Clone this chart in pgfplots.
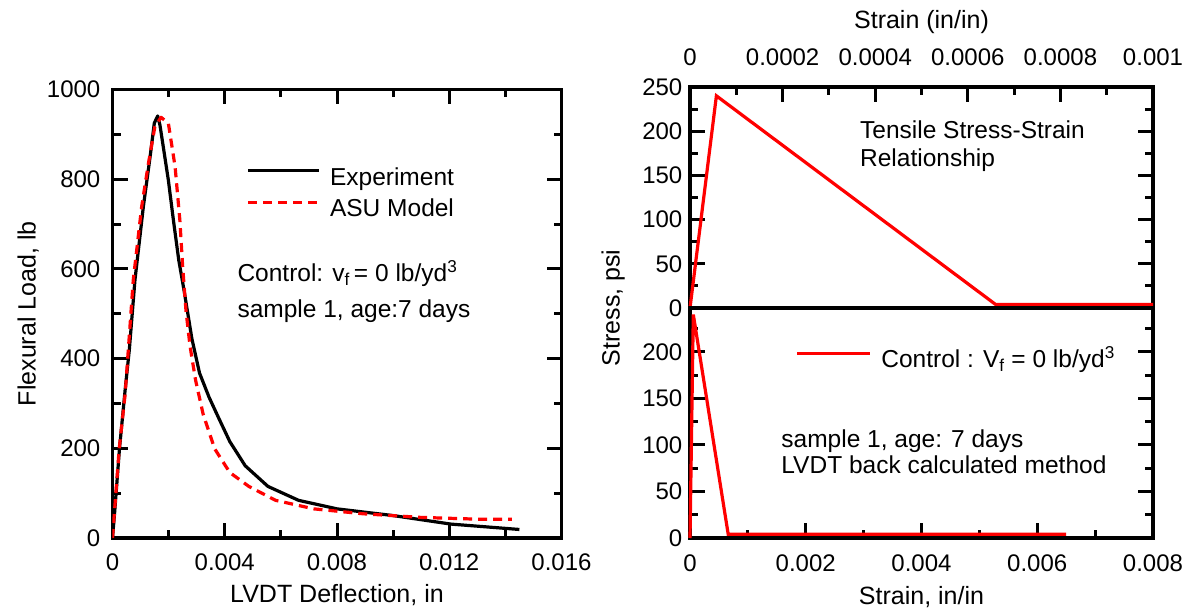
\documentclass[border=0pt]{standalone}
\usepackage{pgfplots}
\usepackage{pgfplotstable}
\pgfplotsset{compat=1.18}
\usepackage{fontspec}
\setmainfont{Liberation Sans}

\pgfplotstableread{
x y
0 0
0.00008 60
0.00025 200
0.00045 330
0.0006 420
0.0008 575
0.0011 739
0.00134 850
0.00149 925
0.00161 941
0.00169 921
0.00181 872
0.00199 798
0.00217 709
0.00236 620
0.00255 552
0.00283 444
0.0031 368
0.00344 314
0.00378 268
0.00418 215
0.00473 161
0.00554 115
0.00663 84
0.008 65
0.01 50
0.01206 31
0.0145 19
}\expdata

\pgfplotstableread{
x y
0 0
0.00024 200
0.00045 320
0.00074 575
0.00104 739
0.00128 835
0.00151 917
0.00173 938
0.00199 925
0.00223 828
0.0024 709
0.0025 605
0.00262 506
0.00276 429
0.00296 352
0.00323 276
0.00364 199
0.00418 146
0.00486 115
0.00581 84
0.00717 65
0.00893 54
0.01097 46
0.013 42
0.01423 42
}\asudata

\pgfplotstableread{
x y
0 0
0.000057 240
0.00066 4
0.001 4
}\tensiletop

\pgfplotstableread{
x y
0 0
0.000057 240
0.00066 4
0.0065 4
}\tensilebottom

\begin{document}
\begin{tikzpicture}[font=\fontsize{24.5}{29}\selectfont]
\useasboundingbox (0,0) rectangle (1188pt,610pt);
\pgfplotsset{
  common/.style={
    scale only axis, anchor=south west,
    axis line style={line width=3.3pt, black},
    tick style={black, line width=3pt},
    tick align=inside,
    major tick length=15pt, minor tick length=8pt,
    /pgf/number format/assume math mode=true,
    /pgf/number format/1000 sep={},
    scaled ticks=false,
    tick label style={font=\fontsize{24}{28}\selectfont},
    label style={font=\fontsize{25}{30}\selectfont},
    legend cell align=left,
  },
}
% ---------------- left plot ----------------
\begin{axis}[common,
  at={(112.5pt,72pt)}, width=449pt, height=448.5pt,
  xmin=0, xmax=0.016, ymin=0, ymax=1000,
  xtick={0,0.004,0.008,0.012,0.016},
  xticklabels={0,0.004,0.008,0.012,0.016},
  ytick={0,200,400,600,800,1000},
  minor x tick num=1, minor y tick num=1,
  xtick pos=both, ytick pos=both,
  xticklabel pos=left, yticklabel pos=left,
  xticklabel style={anchor=center, inner sep=0pt, yshift=-24pt},
  yticklabel style={anchor=east, inner sep=0pt, xshift=-12pt},
  xlabel={LVDT Deflection, in},
  ylabel={Flexural Load, lb},
  xlabel style={at={(axis description cs:0.5,-0.127)}, anchor=center},
  ylabel style={at={(axis description cs:-0.188,0.5)}, anchor=center},
  legend style={at={(axis description cs:0.2988,0.7646)}, anchor=west,
    draw=none, fill=none, inner sep=0pt, row sep=7.7pt, column sep=9.4pt,
    nodes={inner sep=0pt, text height=18pt, text depth=6pt, anchor=west},
    font=\fontsize{24.5}{29}\selectfont},
  legend image code/.code={\draw[#1] (0pt,8.6pt) -- (70.6pt,8.6pt);},
]
\addplot[black, line width=3.2pt, line join=round] table[x=x,y=y] {\expdata};
\addlegendentry{Experiment}
\addplot[red, line width=3.2pt, dash pattern=on 9pt off 6pt, line join=round] table[x=x,y=y] {\asudata};
\addlegendentry{ASU Model}
\node[anchor=base west, inner sep=0pt] at (axis description cs:0.278,0.5712)
  {Control: v\textsubscript{f}\,= 0 lb/yd\textsuperscript{3}};
\node[anchor=base west, inner sep=0pt] at (axis description cs:0.278,0.491)
  {sample 1, age:7 days};
\end{axis}

% ---------------- right upper plot ----------------
\begin{axis}[common,
  at={(690pt,302pt)}, width=463pt, height=221pt,
  xmin=0, xmax=0.001, ymin=0, ymax=250,
  xtick={0,0.0002,0.0004,0.0006,0.0008,0.001},
  xticklabels={0,0.0002,0.0004,0.0006,0.0008,0.001},
  ytick={0,50,100,150,200,250},
  minor x tick num=1, minor y tick num=1,
  xtick pos=right, xticklabel pos=right,
  ytick pos=both, yticklabel pos=left,
  xticklabel style={anchor=center, inner sep=0pt, yshift=30pt},
  yticklabel style={anchor=east, inner sep=0pt, xshift=-7.5pt},
  xlabel={Strain (in/in)},
  xlabel style={at={(axis description cs:0.5,1.294)}, anchor=center},
  clip=false,
]
\addplot[red, line width=3.2pt, line join=miter] table[x=x,y=y] {\tensiletop};
\node[anchor=base west, inner sep=0pt] at (axis description cs:0.367,0.7656) {Tensile Stress-Strain};
\node[anchor=base west, inner sep=0pt] at (axis description cs:0.367,0.639) {Relationship};
\end{axis}

% ---------------- right lower plot ----------------
\begin{axis}[common,
  at={(690pt,72pt)}, width=463pt, height=230pt,
  xmin=0, xmax=0.008, ymin=0, ymax=247,
  xtick={0,0.002,0.004,0.006,0.008},
  xticklabels={0,0.002,0.004,0.006,0.008},
  ytick={0,50,100,150,200},
  minor xtick={0.001,0.003,0.005,0.007},
  minor ytick={25,75,125,175,225},
  xtick pos=left, xticklabel pos=left,
  ytick pos=both, yticklabel pos=left,
  xticklabel style={anchor=center, inner sep=0pt, yshift=-25pt},
  yticklabel style={anchor=east, inner sep=0pt, xshift=-7.5pt},
  xlabel={Strain, in/in},
  ylabel={Stress, psi},
  xlabel style={at={(axis description cs:0.5,-0.2565)}, anchor=center},
  ylabel style={at={(axis description cs:-0.166,1)}, anchor=center},
  clip=false,
  legend style={at={(axis description cs:0.2276,0.766)}, anchor=west,
    draw=none, fill=none, inner sep=0pt, column sep=10pt,
    nodes={inner sep=0pt, text height=18pt, text depth=6pt, anchor=west},
    font=\fontsize{24.5}{29}\selectfont},
  legend image code/.code={\draw[#1] (0pt,8.6pt) -- (72.6pt,8.6pt);},
]
\addplot[red, line width=3.2pt, line join=miter] table[x=x,y=y] {\tensilebottom};
\addlegendentry{Control : V\textsubscript{f} = 0 lb/yd\textsuperscript{3}}
\node[anchor=base west, inner sep=0pt] at (axis description cs:0.197,0.392) {sample 1, age: 7 days};
\node[anchor=base west, inner sep=0pt] at (axis description cs:0.197,0.279) {LVDT back calculated method};
\end{axis}
\end{tikzpicture}
\end{document}
